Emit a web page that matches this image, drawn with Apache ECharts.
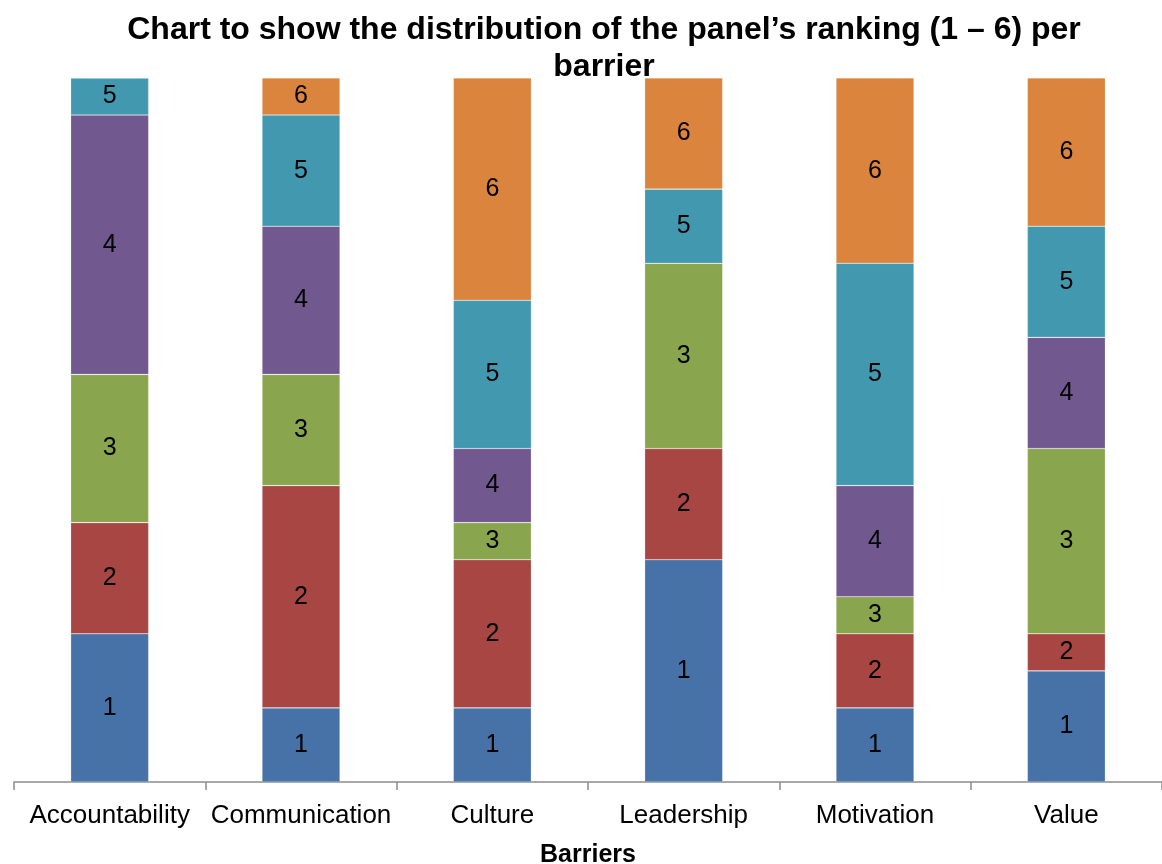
<!DOCTYPE html>
<html>
<head>
<meta charset="utf-8">
<title>Panel ranking per barrier</title>
<script src="https://cdn.jsdelivr.net/npm/echarts@6/dist/echarts.min.js"></script>
<style>
  html, body { margin: 0; padding: 0; background: #ffffff; }
  #chart { width: 1162px; height: 864px; }
</style>
</head>
<body>
<div id="chart"></div>
<script>
// Barriers assessed by the panel
const barriers = ['Accountability', 'Communication', 'Culture', 'Leadership', 'Motivation', 'Value'];

// Number of panel members giving each rank (1 – 6), per barrier
const rank1 = [4, 2, 2, 6, 2, 3];
const rank2 = [3, 6, 4, 3, 2, 1];
const rank3 = [4, 3, 1, 5, 1, 5];
const rank4 = [7, 4, 2, 0, 3, 3];
const rank5 = [1, 3, 4, 2, 6, 3];
const rank6 = [0, 1, 6, 3, 5, 4];

const rankNames = ['1', '2', '3', '4', '5', '6'];
const rankValues = [rank1, rank2, rank3, rank4, rank5, rank6];
const rankColors = ['#4672A8', '#A84644', '#89A54E', '#71588F', '#4198AF', '#DB843D'];

const panelSize = 19;
const font = 'Liberation Sans, Arial, sans-serif';

const chart = echarts.init(document.getElementById('chart'), null, { renderer: 'canvas' });

const series = rankNames.map((name, i) => ({
  name: name,
  type: 'bar',
  stack: 'ranks',
  barWidth: 78,
  data: rankValues[i],
  itemStyle: { color: rankColors[i], borderColor: 'rgba(255,255,255,0.35)', borderWidth: 0.6 },
  label: {
    show: true,
    position: 'inside',
    color: '#000000',
    fontFamily: font,
    fontSize: 25,
    formatter: p => (p.value > 0 ? p.seriesName : '')
  },
  emphasis: { disabled: true }
}));

chart.setOption({
  animation: false,
  title: {
    text: 'Chart to show the distribution of the panel\u2019s ranking (1 \u2013 6) per\nbarrier',
    left: 599,
    top: 7,
    textAlign: 'center',
    textStyle: {
      fontFamily: font,
      fontSize: 32,
      fontWeight: 'bold',
      color: '#000000',
      lineHeight: 37
    }
  },
  grid: { left: 14, right: 0, top: 78, bottom: 82, containLabel: false, outerBoundsMode: 'none' },
  xAxis: {
    type: 'category',
    data: barriers,
    boundaryGap: true,
    name: 'Barriers',
    nameLocation: 'middle',
    nameGap: 61,
    nameTextStyle: {
      fontFamily: font,
      fontSize: 25,
      fontWeight: 'bold',
      color: '#000000'
    },
    axisLine: { show: true, lineStyle: { color: '#8C8C8C', width: 1.5 } },
    axisTick: { show: true, length: 8, alignWithLabel: false, lineStyle: { color: '#8C8C8C', width: 1.5 } },
    axisLabel: {
      fontFamily: font,
      fontSize: 26,
      color: '#000000',
      margin: 21,
      interval: 0
    }
  },
  yAxis: {
    type: 'value',
    min: 0,
    max: panelSize,
    show: false,
    splitLine: { show: false }
  },
  series: series
});
</script>
</body>
</html>
